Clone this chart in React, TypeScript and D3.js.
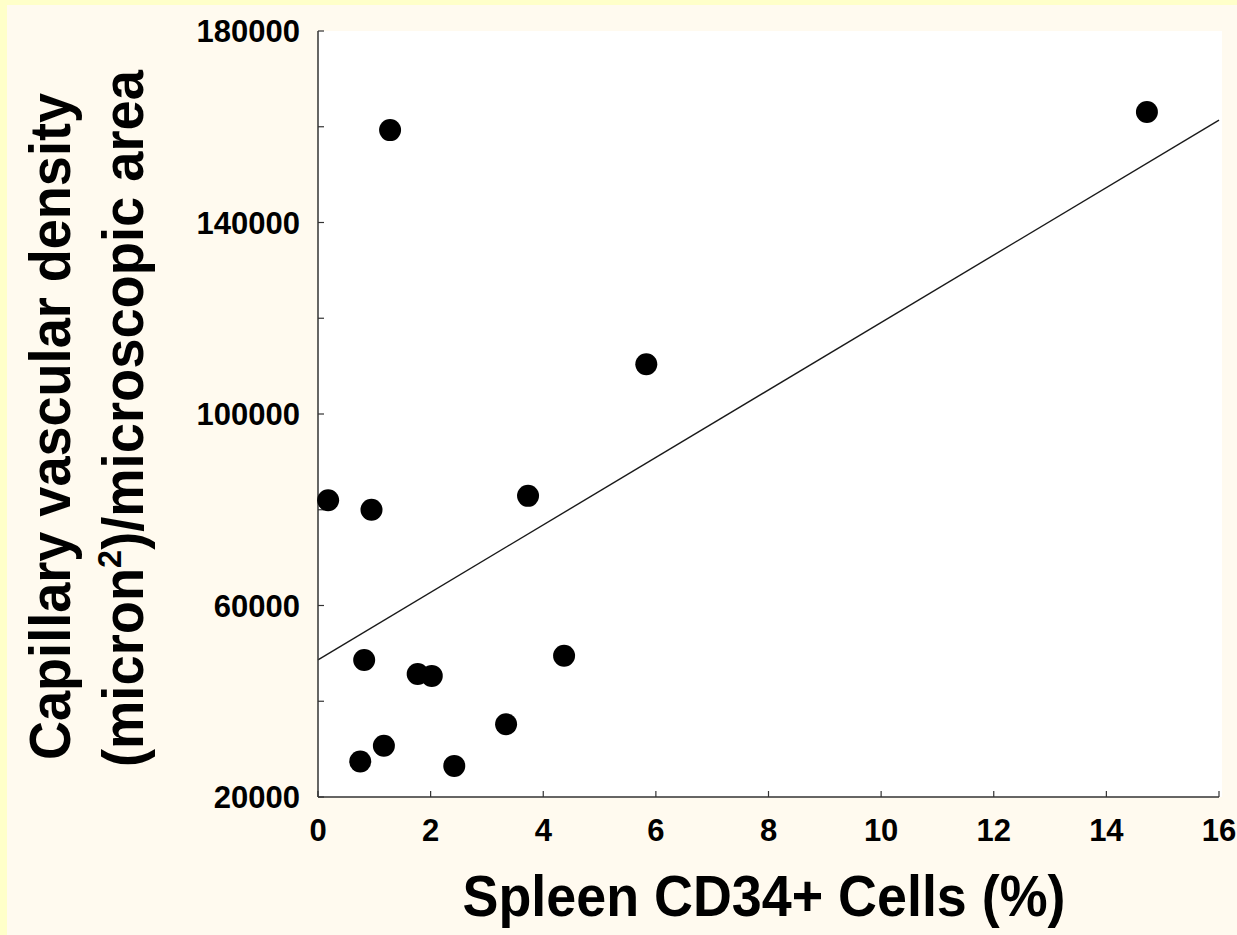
import React, { useEffect, useRef } from 'react';
import * as d3 from 'd3';

// Spleen CD34+ cells (%) for each animal
const cd34Pct = [1.28, 14.72, 5.83, 0.18, 0.95, 3.73, 0.82, 1.77, 2.02, 4.37, 3.34, 1.17, 0.75, 2.42];
// Capillary vascular density (micron^2 / microscopic area)
const vascDensity = [159300, 163100, 110400, 82000, 80000, 82900, 48600, 45700, 45300, 49500, 35200, 30700, 27400, 26500];

const xTicks = [0, 2, 4, 6, 8, 10, 12, 14, 16];
const yTicks = [20000, 40000, 60000, 80000, 100000, 120000, 140000, 160000, 180000];
const yTickLabels = [20000, 60000, 100000, 140000, 180000];

const xTitle = 'Spleen CD34+ Cells (%)';
const yTitle1 = 'Capillary vascular density';

const W = 1237;
const H = 935;
const FONT = '"Liberation Sans", Arial, Helvetica, sans-serif';

export default function App() {
  const ref = useRef<SVGSVGElement>(null);

  useEffect(() => {
    const svg = d3.select(ref.current);
    svg.selectAll('*').remove();

    const plot = { left: 318, right: 1219, top: 31, bottom: 797 };

    const x = d3.scaleLinear().domain([0, 16]).range([plot.left, plot.right]);
    const y = d3.scaleLinear().domain([20000, 180000]).range([plot.bottom, plot.top]);

    // background frame
    svg.append('rect').attr('width', W).attr('height', H).attr('fill', '#FFFFC9');
    svg.append('rect').attr('x', 7).attr('y', 5).attr('width', W - 7).attr('height', H - 5).attr('fill', '#FFFAEF');
    svg
      .append('rect')
      .attr('x', plot.left)
      .attr('y', plot.top)
      .attr('width', 1222 - plot.left)
      .attr('height', plot.bottom - plot.top)
      .attr('fill', '#FFFFFF');

    // least squares fit
    const pts = cd34Pct.map((v, i) => ({ x: v, y: vascDensity[i] }));
    const mx = d3.mean(pts, d => d.x) as number;
    const my = d3.mean(pts, d => d.y) as number;
    const sxy = d3.sum(pts, d => (d.x - mx) * (d.y - my));
    const sxx = d3.sum(pts, d => (d.x - mx) * (d.x - mx));
    const slope = sxy / sxx;
    const icpt = my - slope * mx;

    const line = d3
      .line<number>()
      .x(d => x(d))
      .y(d => y(icpt + slope * d));

    svg
      .append('path')
      .datum([0, 16])
      .attr('d', line)
      .attr('fill', 'none')
      .attr('stroke', '#1a1a1a')
      .attr('stroke-width', 1.4);

    // axes
    const axisColor = '#333';
    svg
      .append('line')
      .attr('x1', plot.left)
      .attr('x2', plot.left)
      .attr('y1', plot.top)
      .attr('y2', plot.bottom)
      .attr('stroke', axisColor)
      .attr('stroke-width', 1.5);
    svg
      .append('line')
      .attr('x1', plot.left)
      .attr('x2', plot.right)
      .attr('y1', plot.bottom)
      .attr('y2', plot.bottom)
      .attr('stroke', axisColor)
      .attr('stroke-width', 1.5);

    svg
      .selectAll('.ytick')
      .data(yTicks)
      .enter()
      .append('line')
      .attr('class', 'ytick')
      .attr('x1', plot.left)
      .attr('x2', plot.left + 6)
      .attr('y1', d => y(d))
      .attr('y2', d => y(d))
      .attr('stroke', axisColor)
      .attr('stroke-width', 1.2);

    svg
      .selectAll('.xtick')
      .data(xTicks)
      .enter()
      .append('line')
      .attr('class', 'xtick')
      .attr('x1', d => x(d))
      .attr('x2', d => x(d))
      .attr('y1', plot.bottom)
      .attr('y2', plot.bottom - 6)
      .attr('stroke', axisColor)
      .attr('stroke-width', 1.2);

    svg
      .selectAll('.ylab')
      .data(yTickLabels)
      .enter()
      .append('text')
      .attr('class', 'ylab')
      .attr('x', 300)
      .attr('y', d => y(d))
      .attr('dy', '0.36em')
      .attr('text-anchor', 'end')
      .attr('font-family', FONT)
      .attr('font-weight', 'bold')
      .attr('font-size', 31)
      .text(d => String(d));

    svg
      .selectAll('.xlab')
      .data(xTicks)
      .enter()
      .append('text')
      .attr('class', 'xlab')
      .attr('x', d => x(d))
      .attr('y', 841)
      .attr('text-anchor', 'middle')
      .attr('font-family', FONT)
      .attr('font-weight', 'bold')
      .attr('font-size', 31)
      .text(d => String(d));

    // points
    svg
      .selectAll('circle')
      .data(pts)
      .enter()
      .append('circle')
      .attr('cx', d => x(d.x))
      .attr('cy', d => y(d.y))
      .attr('r', 11)
      .attr('fill', '#000');

    // titles
    svg
      .append('text')
      .attr('x', 764)
      .attr('y', 916)
      .attr('text-anchor', 'middle')
      .attr('font-family', FONT)
      .attr('font-weight', 'bold')
      .attr('font-size', 57)
      .attr('textLength', 603)
      .attr('lengthAdjust', 'spacingAndGlyphs')
      .text(xTitle);

    svg
      .append('text')
      .attr('transform', 'translate(70,426.5) rotate(-90)')
      .attr('text-anchor', 'middle')
      .attr('font-family', FONT)
      .attr('font-weight', 'bold')
      .attr('font-size', 57)
      .attr('textLength', 667)
      .attr('lengthAdjust', 'spacingAndGlyphs')
      .text(yTitle1);

    const t2 = svg
      .append('text')
      .attr('transform', 'translate(143,418.5) rotate(-90)')
      .attr('text-anchor', 'middle')
      .attr('font-family', FONT)
      .attr('font-weight', 'bold')
      .attr('font-size', 57)
      .attr('textLength', 697)
      .attr('lengthAdjust', 'spacingAndGlyphs');
    t2.append('tspan').text('(micron');
    t2.append('tspan').attr('font-size', 34).attr('dy', -22).text('2');
    t2.append('tspan').attr('dy', 22).text(')/microscopic area');
  }, []);

  return (
    <svg
      ref={ref}
      width={W}
      height={H}
      style={{ position: 'absolute', left: 0, top: 0, display: 'block' }}
    />
  );
}
